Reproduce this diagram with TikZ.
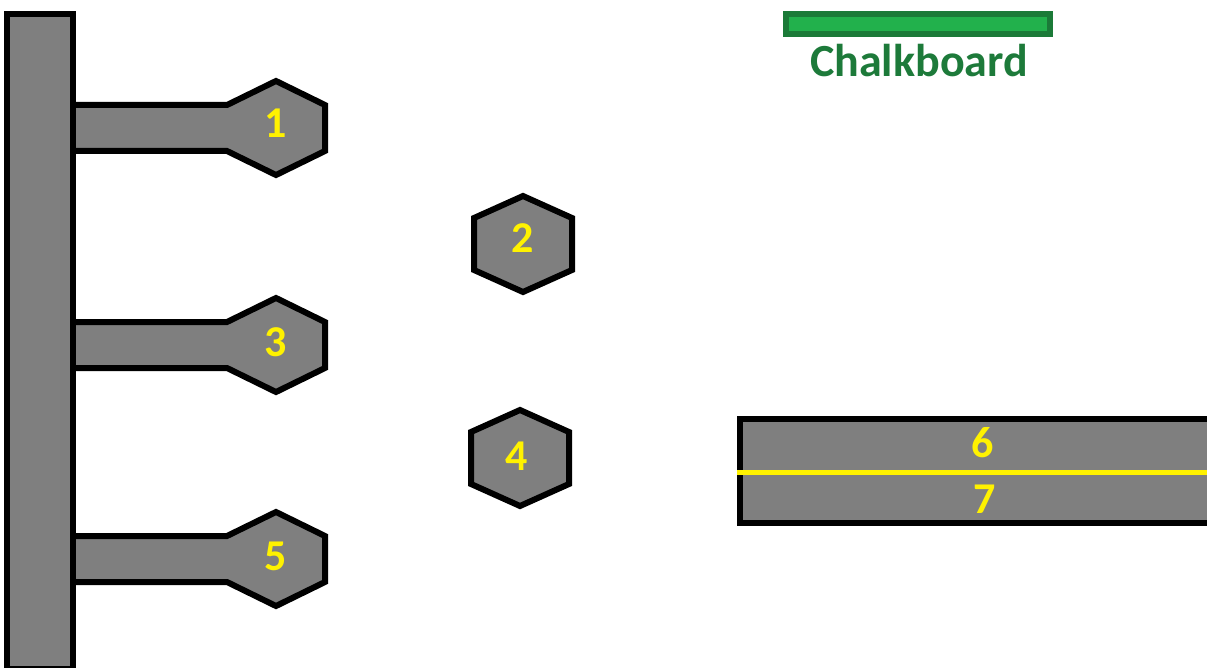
\documentclass[tikz,border=0pt]{standalone}
\usepackage{fontspec}
\setmainfont{Carlito}
\definecolor{gfill}{HTML}{7F7F7F}
\definecolor{lbl}{HTML}{FFF200}
\definecolor{cbfill}{HTML}{22B14C}
\definecolor{cbdraw}{HTML}{1B7A38}
\definecolor{cbtext}{HTML}{1D7A3A}
\newcommand\myarmpath[2]{(73,{#2-23}) -- ({#1-49},{#2-23}) -- (#1,{#2-47}) -- ({#1+49},{#2-23}) -- ({#1+49},{#2+23}) -- (#1,{#2+47}) -- ({#1-49},{#2+23}) -- (73,{#2+23})}
\begin{document}
\begin{tikzpicture}[x=1pt,y=-1pt,
  part/.style={draw=black, fill=gfill, line width=6pt, line join=miter},
  num/.style={text=lbl, font=\fontsize{44}{44}\selectfont\bfseries, inner sep=0pt, anchor=base},
  divider/.style={draw=lbl, line width=5pt}]
\useasboundingbox (0,0) rectangle (1207,668);
\clip (0,0) rectangle (1207,668);
% arms with hexagons
\draw[part] \myarmpath{276}{128};
\draw[part] \myarmpath{276}{345};
\draw[part] \myarmpath{276}{559};
% vertical bar
\draw[part] (7,14) rectangle (73,669);
% free hexagons
\draw[part] ({523-49},{244-26}) -- (523,196) -- ({523+49},{244-26}) -- ({523+49},{244+26}) -- (523,292) -- ({523-49},{244+26}) -- cycle;
\draw[part] ({520-49},{458-26}) -- (520,410) -- ({520+49},{458-26}) -- ({520+49},{458+26}) -- (520,506) -- ({520-49},{458+26}) -- cycle;
% table 6/7
\draw[part] (740,419) rectangle (1230,523);
\coordinate (dl) at (737,472.5);
\coordinate (dr) at (1215,472.5);
\draw[divider] (dl) -- (dr);
% chalkboard
\draw[draw=cbdraw, fill=cbfill, line width=6pt] (786,14) rectangle (1050,34);
\node[text=cbtext, font=\fontsize{46}{46}\selectfont\bfseries, inner sep=0pt, anchor=base] (chalk) at (919,77) {Chalkboard};
% labels
\node[num] (n1) at (276,138) {1};
\node[num] (n2) at (523,253) {2};
\node[num] (n3) at (276,356) {3};
\node[num] (n4) at (517,470) {4};
\node[num] (n5) at (276,570) {5};
\node[num] (n6) at (983,457) {6};
\node[num] (n7) at (985,513) {7};
\end{tikzpicture}
\end{document}
